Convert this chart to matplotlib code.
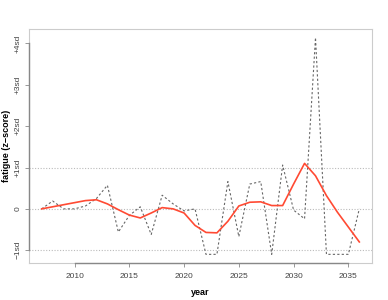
import matplotlib
matplotlib.use("Agg")
import matplotlib.pyplot as plt

plt.rcParams["font.family"] = ["Liberation Sans", "DejaVu Sans"]

years = list(range(2007, 2037))
raw = [0.0, 0.19, 0.0, 0.0, 0.07, 0.25, 0.57, -0.56, -0.16, 0.05, -0.62, 0.33,
       0.12, -0.05, 0.0, -1.1, -1.1, 0.66, -0.67, 0.6, 0.66, -1.1, 1.06, -0.03,
       -0.24, 4.14, -1.1, -1.1, -1.1, 0.0]
smooth = [0.0, 0.05, 0.1, 0.15, 0.2, 0.22, 0.12, -0.02, -0.15, -0.22, -0.1, 0.03,
          0.0, -0.1, -0.4, -0.57, -0.58, -0.3, 0.07, 0.16, 0.17, 0.08, 0.08, 0.6,
          1.1, 0.8, 0.32, -0.08, -0.44, -0.8]
ytick_vals = [-1, 0, 1, 2, 3, 4]
ytick_labels = ["\u22121sd", "0", "+1sd", "+2sd", "+3sd", "+4sd"]
xtick_vals = [2010, 2015, 2020, 2025, 2030, 2035]
grid_vals = [-1, 0, 1]

fig = plt.figure(figsize=(3.88, 3.0), dpi=100)
ax = fig.add_axes([0.0747, 0.1233, 0.8841, 0.78])

for g in grid_vals:
    ax.axhline(g, color="#bbbbbb", lw=0.8, ls=(0, (1, 1.5)), zorder=1)

ax.plot(years, raw, color="#666666", lw=0.8, ls=(0, (2, 2)), zorder=2)
ax.plot(years, smooth, color="#ff4a33", lw=1.2, zorder=3)

xr = max(years) - min(years)
ax.set_xlim(min(years) - 0.04 * xr, max(years) + 0.04 * xr)
lo, hi = min(raw), max(raw)
yr = hi - lo
ax.set_ylim(lo - 0.04 * yr, hi + 0.04 * yr)

for s in ["top", "right", "left", "bottom"]:
    ax.spines[s].set_color("#cccccc")
    ax.spines[s].set_linewidth(0.8)

# darker axis lines over tick ranges
ax.plot([ax.get_xlim()[0]] * 2, [min(ytick_vals), max(ytick_vals)], color="#888888",
        lw=1.0, clip_on=False, zorder=5)
ax.plot([min(xtick_vals), max(xtick_vals)], [ax.get_ylim()[0]] * 2, color="#888888",
        lw=1.0, clip_on=False, zorder=5)

ax.set_xticks(xtick_vals)
ax.set_xticklabels([str(v) for v in xtick_vals])
ax.set_yticks(ytick_vals)
ax.set_yticklabels(ytick_labels, rotation=90, va="center")
ax.tick_params(axis="both", length=3, width=0.6, color="#888888", labelsize=6,
               labelcolor="#444444")
ax.tick_params(axis="y", pad=2)
ax.tick_params(axis="x", pad=4)

ax.set_xlabel("year", fontsize=6.5, fontweight="bold")
ax.set_ylabel("fatigue (z\u2212score)", fontsize=6.5, fontweight="bold")
ax.xaxis.set_label_coords(0.5, -0.105)
ax.yaxis.set_label_coords(-0.052, 0.5)

fig.savefig("out.png", dpi=100)
